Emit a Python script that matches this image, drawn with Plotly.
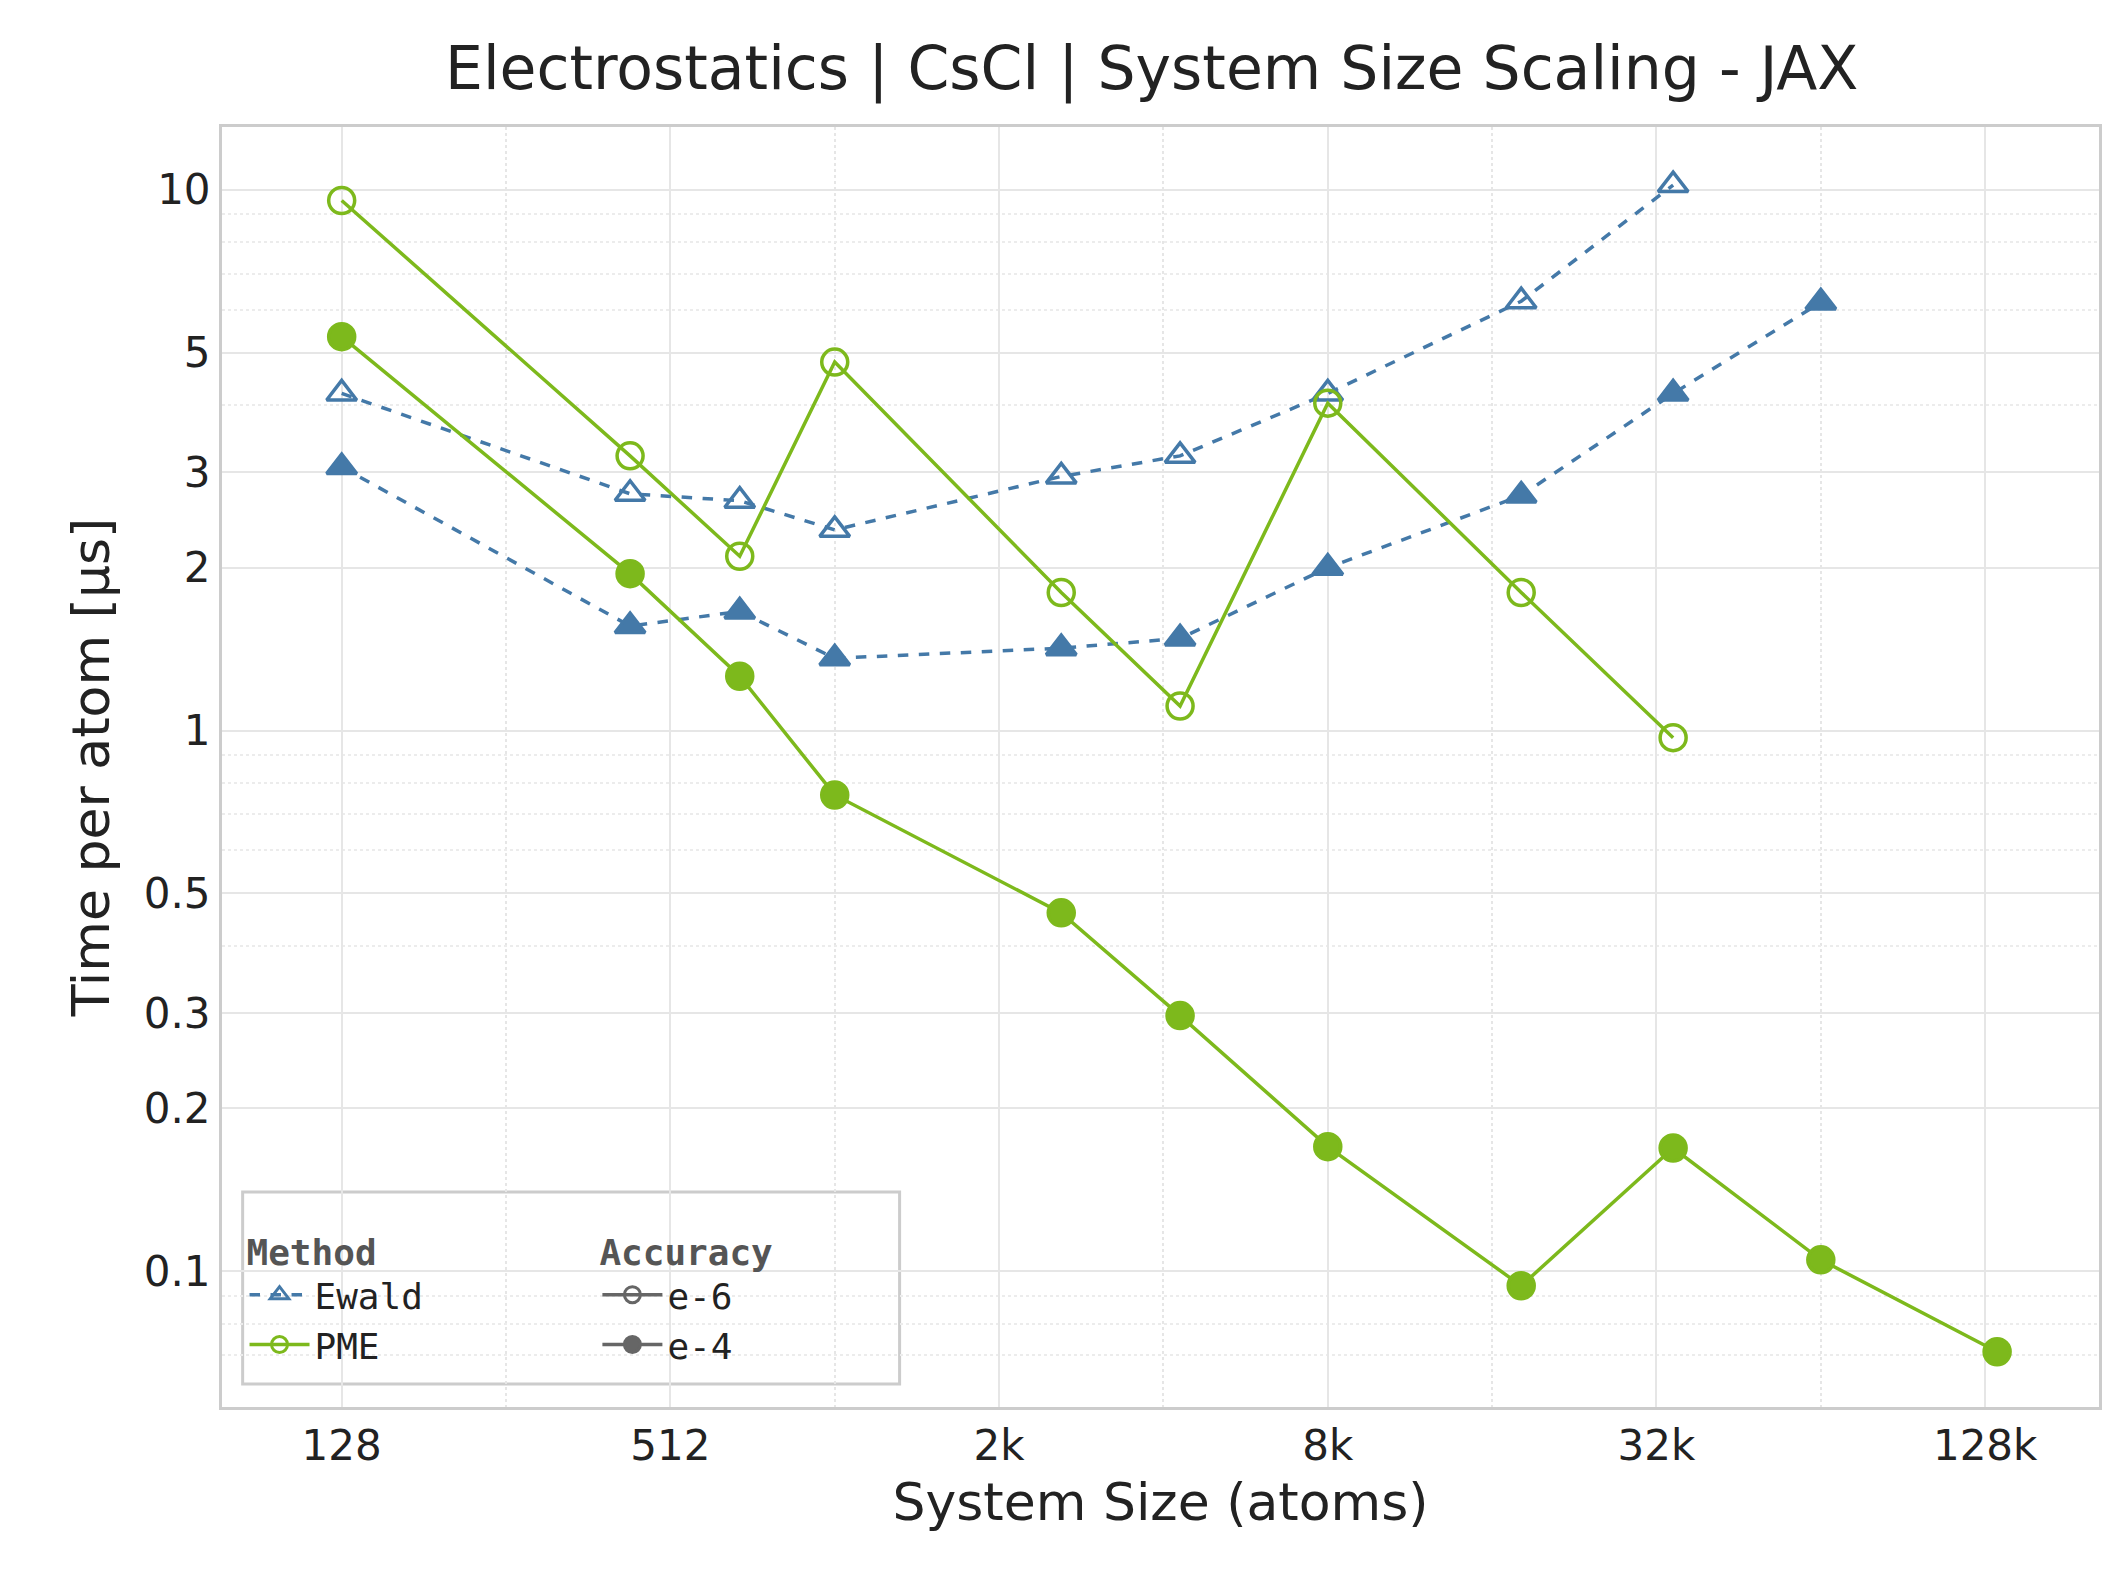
import plotly.graph_objects as go

sizes = [128, 432, 686, 1024, 2662, 4394, 8192, 18522, 35152, 65536, 137842]

ewald_e6 = [4.2, 2.74, 2.66, 2.35, 2.95, 3.22, 4.2, 6.22, 10.2]
ewald_e4 = [3.07, 1.56, 1.66, 1.36, 1.42, 1.48, 2.0, 2.72, 4.2, 6.19]
pme_e6 = [9.55, 3.22, 2.1, 4.8, 1.8, 1.11, 4.03, 1.8, 0.97]
pme_e4 = [5.35, 1.95, 1.26, 0.76, 0.46, 0.297, 0.17, 0.094, 0.169, 0.105, 0.071]

x_ticks = [128, 512, 2048, 8192, 32768, 131072]
x_labels = ["128", "512", "2k", "8k", "32k", "128k"]
y_ticks = [0.1, 0.2, 0.3, 0.5, 1, 2, 3, 5, 10]
y_labels = ["0.1", "0.2", "0.3", "0.5", "1", "2", "3", "5", "10"]

BLUE = "#4479a8"
GREEN = "#7db91c"
FONT = "DejaVu Sans"
MONO = "DejaVu Sans Mono"

fig = go.Figure()

def add_series(y, color, dash, symbol):
    fig.add_trace(go.Scatter(
        x=sizes[:len(y)], y=y, mode="lines+markers", showlegend=False,
        line=dict(color=color, width=3.5, dash=dash),
        marker=dict(symbol=symbol, size=26, color=color,
                    line=dict(color=color, width=3.5))))

add_series(ewald_e6, BLUE, "dash", "triangle-up-open")
add_series(ewald_e4, BLUE, "dash", "triangle-up")
add_series(pme_e6, GREEN, "solid", "circle-open")
add_series(pme_e4, GREEN, "solid", "circle")

# legend entries
def leg(name, color, dash, symbol, legend):
    fig.add_trace(go.Scatter(
        x=[None], y=[None], mode="lines+markers", name=name, legend=legend,
        line=dict(color=color, width=3.5, dash=dash),
        marker=dict(symbol=symbol, size=22, color=color, line=dict(color=color, width=3))))

leg("Ewald", BLUE, "dash", "triangle-up-open", "legend")
leg("PME", GREEN, "solid", "circle-open", "legend")
leg("e-6", "#666666", "solid", "circle-open", "legend2")
leg("e-4", "#666666", "solid", "circle", "legend2")

legend_common = dict(bgcolor="rgba(0,0,0,0)", font=dict(family=MONO, size=36, color="#222"),
                     yanchor="bottom", xanchor="left", tracegroupgap=0, itemwidth=60)

fig.update_layout(
    width=2118, height=1574,
    margin=dict(l=214, r=27, t=119, b=175),
    paper_bgcolor="white", plot_bgcolor="white",
    title=dict(text="Electrostatics | CsCl | System Size Scaling - JAX", x=0.54, xanchor="center",
               y=0.975, font=dict(family=FONT, size=60, color="#222")),
    xaxis=dict(type="log", range=[1.888, 5.326], tickvals=x_ticks, ticktext=x_labels,
               showgrid=True, gridcolor="#e6e6e6", gridwidth=1.5,
               minor=dict(tickvals=[256, 1024, 4096, 16384, 65536], showgrid=True,
                          gridcolor="#e6e6e6", griddash="dot"),
               showline=True, linecolor="#cccccc", linewidth=3, mirror=True, zeroline=False,
               ticks="", tickfont=dict(family=FONT, size=42, color="#222"),
               title=dict(text="System Size (atoms)", font=dict(family=FONT, size=52, color="#222"))),
    yaxis=dict(type="log", range=[-1.251, 1.116], tickvals=y_ticks, ticktext=y_labels,
               showgrid=True, gridcolor="#e6e6e6", gridwidth=1.5,
               minor=dict(tickvals=[0.07, 0.08, 0.09, 0.4, 0.6, 0.7, 0.8, 0.9, 4, 6, 7, 8, 9],
                          showgrid=True, gridcolor="#ececec", griddash="dot"),
               showline=True, linecolor="#cccccc", linewidth=3, mirror=True, zeroline=False,
               ticks="", tickfont=dict(family=FONT, size=42, color="#222"),
               title=dict(text="Time per atom [µs]", font=dict(family=FONT, size=52, color="#222"),
                          standoff=18)),
    legend=dict(x=0.012, y=0.025, title=dict(text="<b>Method</b>", side="top",
                font=dict(family=MONO, size=36, color="#555")), **legend_common),
    legend2=dict(x=0.2, y=0.025, title=dict(text="<b>Accuracy</b>", side="top",
                 font=dict(family=MONO, size=36, color="#555")), **legend_common),
)

fig.add_shape(type="rect", xref="paper", yref="paper", x0=0.011, x1=0.361, y0=0.018, y1=0.168,
              line=dict(color="#cccccc", width=3), fillcolor="rgba(255,255,255,0.8)", layer="below")

fig.write_html("out.html")
